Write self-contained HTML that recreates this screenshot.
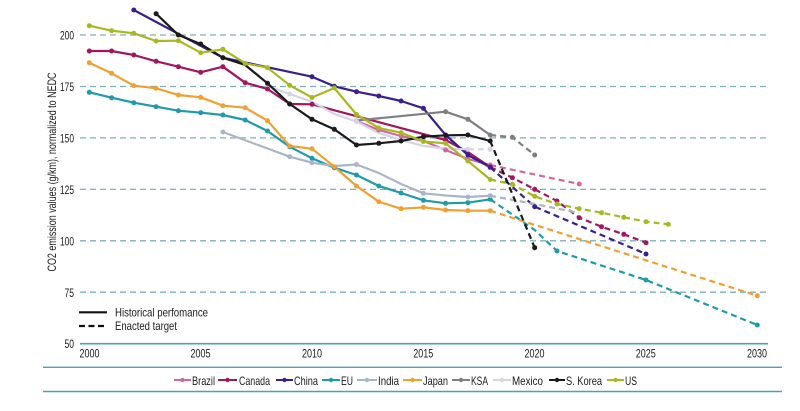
<!DOCTYPE html>
<html><head><meta charset="utf-8"><style>
html,body{margin:0;padding:0;background:#fff;}
svg{display:block;font-family:"Liberation Sans",sans-serif;}
</style></head><body>
<svg width="800" height="411" viewBox="0 0 800 411" xmlns="http://www.w3.org/2000/svg">
<rect width="800" height="411" fill="#fff"/>
<!-- gridlines -->
<g stroke="#7fafbb" stroke-width="1.3" stroke-dasharray="6,4" fill="none">
<line x1="80" y1="35" x2="767" y2="35"/>
<line x1="80" y1="86.5" x2="767" y2="86.5"/>
<line x1="80" y1="137.9" x2="767" y2="137.9"/>
<line x1="80" y1="189.4" x2="767" y2="189.4"/>
<line x1="80" y1="240.8" x2="767" y2="240.8"/>
<line x1="80" y1="292.2" x2="767" y2="292.2"/>
</g>
<line x1="80" y1="343.7" x2="768" y2="343.7" stroke="#4aa3b3" stroke-width="1.6"/>
<line x1="43" y1="367.3" x2="782" y2="367.3" stroke="#4aa3b3" stroke-width="1.4"/>
<line x1="43" y1="391.5" x2="782" y2="391.5" stroke="#4aa3b3" stroke-width="1.4"/>
<!-- y tick labels -->
<g font-size="12" fill="#1a1a1a" text-anchor="end">
<text x="74" y="39.5" textLength="14" lengthAdjust="spacingAndGlyphs">200</text>
<text x="74" y="91" textLength="14" lengthAdjust="spacingAndGlyphs">175</text>
<text x="74" y="142.5" textLength="14" lengthAdjust="spacingAndGlyphs">150</text>
<text x="74" y="194" textLength="14" lengthAdjust="spacingAndGlyphs">125</text>
<text x="74" y="245.5" textLength="14" lengthAdjust="spacingAndGlyphs">100</text>
<text x="74" y="297" textLength="9.5" lengthAdjust="spacingAndGlyphs">75</text>
<text x="74" y="348" textLength="9.5" lengthAdjust="spacingAndGlyphs">50</text>
</g>
<!-- x tick labels -->
<g font-size="12" fill="#1a1a1a" text-anchor="middle">
<text x="89.5" y="357.5" textLength="20" lengthAdjust="spacingAndGlyphs">2000</text>
<text x="200.5" y="357.5" textLength="20" lengthAdjust="spacingAndGlyphs">2005</text>
<text x="312" y="357.5" textLength="20" lengthAdjust="spacingAndGlyphs">2010</text>
<text x="423.3" y="357.5" textLength="20" lengthAdjust="spacingAndGlyphs">2015</text>
<text x="534.5" y="357.5" textLength="20" lengthAdjust="spacingAndGlyphs">2020</text>
<text x="645.8" y="357.5" textLength="20" lengthAdjust="spacingAndGlyphs">2025</text>
<text x="757" y="357.5" textLength="20" lengthAdjust="spacingAndGlyphs">2030</text>
</g>
<!-- y axis title -->
<text transform="translate(56,172) rotate(-90)" font-size="12" fill="#1a1a1a" text-anchor="middle" textLength="199" lengthAdjust="spacingAndGlyphs">CO2 emission values (g/km), normalized to NEDC</text>

<!-- series -->
<g fill="none" stroke-width="2.2" stroke-linejoin="round">
<polyline stroke="#d466a2" points="356.5,121 378.8,130 401.1,136 423.4,141 445.6,150 467.9,159 490.2,165"/>
<polyline stroke="#d466a2" stroke-dasharray="6,4" points="490.2,165 579.2,184"/>
<polyline stroke="#a3155f" points="89.3,51 111.6,51 133.8,55 156.1,61.3 178.4,66.7 200.7,72.3 222.9,66.7 245.2,82.7 267.5,89 289.7,104 312,104.3 445.6,140 467.9,152 490.2,167"/>
<polyline stroke="#a3155f" stroke-dasharray="6,4" points="490.2,167 512.4,177.7 534.7,189.3 557,201 579.2,217.7 601.5,226.7 623.8,234.3 646,242.7"/>
<polyline stroke="#3a1e8e" points="133.8,10 222.9,57.7 312,76.7 334.3,86.3 356.5,91.7 378.8,96 401.1,101 423.4,108.3 445.6,135 467.9,155 490.2,167.3"/>
<polyline stroke="#3a1e8e" stroke-dasharray="6,4" points="490.2,167.3 534.7,206.7 646,254"/>
<polyline stroke="#1e9aab" points="89.3,92.3 111.6,97.7 133.8,102.7 156.1,106.7 178.4,110.7 200.7,112.7 222.9,115 245.2,120 267.5,131 289.7,146.7 312,158.3 334.3,167.7 356.5,175 378.8,186 401.1,193 423.4,200.3 445.6,203.3 467.9,202.7 490.2,199.3"/>
<polyline stroke="#1e9aab" stroke-dasharray="6,4" points="490.2,199.3 534.7,230 557,251 646,280 757.3,325"/>
<polyline stroke="#aab5c7" points="222.9,132 289.7,156.7 312,162.7 334.3,166 356.5,164.5 378.8,173 401.1,184 423.4,193.3 445.6,195.5 467.9,197 490.2,195.7"/>
<polyline stroke="#aab5c7" stroke-dasharray="6,4" points="490.2,195.7 534.7,204 579.2,213"/>
<polyline stroke="#f0a030" points="89.3,62.7 111.6,73.3 133.8,85.7 156.1,88.3 178.4,95 200.7,97.3 222.9,105.7 245.2,107.7 267.5,120.7 289.7,146 312,148.7 334.3,166.7 356.5,186 378.8,201.7 401.1,208.7 423.4,207.3 445.6,210 467.9,210.7 490.2,210.7"/>
<polyline stroke="#f0a030" stroke-dasharray="6,4" points="490.2,210.7 757.3,295.7"/>
<polyline stroke="#7f7f7f" points="356.5,120.5 445.6,111.7 467.9,119.3 490.2,135"/>
<polyline stroke="#7f7f7f" stroke-dasharray="6,4" points="490.2,135 512.4,137.3 534.7,155"/>
<polyline stroke="#d3d3ea" points="267.5,86 289.7,94 312,101.7 334.3,114 356.5,121.5 378.8,133 401.1,140 423.4,146 445.6,148.5 467.9,149.3"/>
<polyline stroke="#d3d3ea" stroke-dasharray="6,4" points="467.9,149.3 490.2,149.3"/>
<polyline stroke="#1a1a1a" points="156.1,13.7 178.4,35 200.7,44 222.9,57.7 245.2,65 267.5,83.3 289.7,104 312,119.3 334.3,129.3 356.5,145 378.8,143.3 401.1,141 423.4,136.7 445.6,135.3 467.9,135 490.2,141"/>
<polyline stroke="#1a1a1a" stroke-dasharray="6,4" points="490.2,141 534.7,247.7"/>
<polyline stroke="#a8b820" points="89.3,25.7 111.6,30.7 133.8,33.3 156.1,41 178.4,40.7 200.7,52.7 222.9,49.3 245.2,63.3 267.5,67.7 289.7,85.3 312,97.5 334.3,88 356.5,114.5 378.8,128 401.1,132.7 423.4,141.5 445.6,143.3 467.9,161 490.2,179.5"/>
<polyline stroke="#a8b820" stroke-dasharray="6,4" points="490.2,179.5 512.4,184.3 534.7,196.3 557,204 579.2,208.7 601.5,212.7 623.8,217.3 646,221.7 668.3,224.3"/>
</g>

<!-- markers -->
<g fill="#d466a2"><circle cx="356.5" cy="121" r="2.5"/><circle cx="378.8" cy="130" r="2.5"/><circle cx="401.1" cy="136" r="2.5"/><circle cx="423.4" cy="141" r="2.5"/><circle cx="445.6" cy="150" r="2.5"/><circle cx="467.9" cy="159" r="2.5"/><circle cx="490.2" cy="165" r="2.5"/><circle cx="579.2" cy="184" r="2.5"/></g>
<g fill="#a3155f"><circle cx="89.3" cy="51" r="2.5"/><circle cx="111.6" cy="51" r="2.5"/><circle cx="133.8" cy="55" r="2.5"/><circle cx="156.1" cy="61.3" r="2.5"/><circle cx="178.4" cy="66.7" r="2.5"/><circle cx="200.7" cy="72.3" r="2.5"/><circle cx="222.9" cy="66.7" r="2.5"/><circle cx="245.2" cy="82.7" r="2.5"/><circle cx="267.5" cy="89" r="2.5"/><circle cx="289.7" cy="104" r="2.5"/><circle cx="312" cy="104.3" r="2.5"/><circle cx="445.6" cy="140" r="2.5"/><circle cx="490.2" cy="167" r="2.5"/><circle cx="512.4" cy="177.7" r="2.5"/><circle cx="534.7" cy="189.3" r="2.5"/><circle cx="557" cy="201" r="2.5"/><circle cx="579.2" cy="217.7" r="2.5"/><circle cx="601.5" cy="226.7" r="2.5"/><circle cx="623.8" cy="234.3" r="2.5"/><circle cx="646" cy="242.7" r="2.5"/></g>
<g fill="#3a1e8e"><circle cx="133.8" cy="10" r="2.5"/><circle cx="222.9" cy="57.7" r="2.5"/><circle cx="312" cy="76.7" r="2.5"/><circle cx="334.3" cy="86.3" r="2.5"/><circle cx="356.5" cy="91.7" r="2.5"/><circle cx="378.8" cy="96" r="2.5"/><circle cx="401.1" cy="101" r="2.5"/><circle cx="423.4" cy="108.3" r="2.5"/><circle cx="445.6" cy="135" r="2.5"/><circle cx="467.9" cy="155" r="2.5"/><circle cx="490.2" cy="167.3" r="2.5"/><circle cx="534.7" cy="206.7" r="2.5"/><circle cx="646" cy="254" r="2.5"/></g>
<g fill="#1e9aab"><circle cx="89.3" cy="92.3" r="2.5"/><circle cx="111.6" cy="97.7" r="2.5"/><circle cx="133.8" cy="102.7" r="2.5"/><circle cx="156.1" cy="106.7" r="2.5"/><circle cx="178.4" cy="110.7" r="2.5"/><circle cx="200.7" cy="112.7" r="2.5"/><circle cx="222.9" cy="115" r="2.5"/><circle cx="245.2" cy="120" r="2.5"/><circle cx="267.5" cy="131" r="2.5"/><circle cx="289.7" cy="146.7" r="2.5"/><circle cx="312" cy="158.3" r="2.5"/><circle cx="334.3" cy="167.7" r="2.5"/><circle cx="356.5" cy="175" r="2.5"/><circle cx="378.8" cy="186" r="2.5"/><circle cx="401.1" cy="193" r="2.5"/><circle cx="423.4" cy="200.3" r="2.5"/><circle cx="445.6" cy="203.3" r="2.5"/><circle cx="467.9" cy="202.7" r="2.5"/><circle cx="490.2" cy="199.3" r="2.5"/><circle cx="557" cy="251" r="2.5"/><circle cx="646" cy="280" r="2.5"/><circle cx="757.3" cy="325" r="2.5"/></g>
<g fill="#aab5c7"><circle cx="222.9" cy="132" r="2.5"/><circle cx="289.7" cy="156.7" r="2.5"/><circle cx="312" cy="162.7" r="2.5"/><circle cx="356.5" cy="164.5" r="2.5"/><circle cx="423.4" cy="193.3" r="2.5"/><circle cx="467.9" cy="197" r="2.5"/><circle cx="490.2" cy="195.7" r="2.5"/></g>
<g fill="#f0a030"><circle cx="89.3" cy="62.7" r="2.5"/><circle cx="111.6" cy="73.3" r="2.5"/><circle cx="133.8" cy="85.7" r="2.5"/><circle cx="156.1" cy="88.3" r="2.5"/><circle cx="178.4" cy="95" r="2.5"/><circle cx="200.7" cy="97.3" r="2.5"/><circle cx="222.9" cy="105.7" r="2.5"/><circle cx="245.2" cy="107.7" r="2.5"/><circle cx="267.5" cy="120.7" r="2.5"/><circle cx="289.7" cy="146" r="2.5"/><circle cx="312" cy="148.7" r="2.5"/><circle cx="334.3" cy="166.7" r="2.5"/><circle cx="356.5" cy="186" r="2.5"/><circle cx="378.8" cy="201.7" r="2.5"/><circle cx="401.1" cy="208.7" r="2.5"/><circle cx="423.4" cy="207.3" r="2.5"/><circle cx="445.6" cy="210" r="2.5"/><circle cx="467.9" cy="210.7" r="2.5"/><circle cx="490.2" cy="210.7" r="2.5"/><circle cx="757.3" cy="295.7" r="2.5"/></g>
<g fill="#7f7f7f"><circle cx="445.6" cy="111.7" r="2.5"/><circle cx="467.9" cy="119.3" r="2.5"/><circle cx="490.2" cy="135" r="2.5"/><circle cx="512.4" cy="137.3" r="2.5"/><circle cx="534.7" cy="155" r="2.5"/></g>
<g fill="#d3d3ea"><circle cx="289.7" cy="94" r="2.5"/><circle cx="356.5" cy="121.5" r="2.5"/><circle cx="467.9" cy="149.3" r="2.5"/><circle cx="490.2" cy="149.3" r="2.5"/></g>
<g fill="#1a1a1a"><circle cx="156.1" cy="13.7" r="2.5"/><circle cx="178.4" cy="35" r="2.5"/><circle cx="200.7" cy="44" r="2.5"/><circle cx="222.9" cy="57.7" r="2.5"/><circle cx="267.5" cy="83.3" r="2.5"/><circle cx="289.7" cy="104" r="2.5"/><circle cx="312" cy="119.3" r="2.5"/><circle cx="334.3" cy="129.3" r="2.5"/><circle cx="356.5" cy="145" r="2.5"/><circle cx="378.8" cy="143.3" r="2.5"/><circle cx="401.1" cy="141" r="2.5"/><circle cx="423.4" cy="136.7" r="2.5"/><circle cx="445.6" cy="135.3" r="2.5"/><circle cx="467.9" cy="135" r="2.5"/><circle cx="490.2" cy="141" r="2.5"/><circle cx="534.7" cy="247.7" r="2.5"/></g>
<g fill="#a8b820"><circle cx="89.3" cy="25.7" r="2.5"/><circle cx="111.6" cy="30.7" r="2.5"/><circle cx="133.8" cy="33.3" r="2.5"/><circle cx="156.1" cy="41" r="2.5"/><circle cx="178.4" cy="40.7" r="2.5"/><circle cx="200.7" cy="52.7" r="2.5"/><circle cx="222.9" cy="49.3" r="2.5"/><circle cx="245.2" cy="63.3" r="2.5"/><circle cx="267.5" cy="67.7" r="2.5"/><circle cx="289.7" cy="85.3" r="2.5"/><circle cx="312" cy="97.5" r="2.5"/><circle cx="334.3" cy="88" r="2.5"/><circle cx="356.5" cy="114.5" r="2.5"/><circle cx="378.8" cy="128" r="2.5"/><circle cx="401.1" cy="132.7" r="2.5"/><circle cx="423.4" cy="141.5" r="2.5"/><circle cx="445.6" cy="143.3" r="2.5"/><circle cx="467.9" cy="161" r="2.5"/><circle cx="490.2" cy="179.5" r="2.5"/><circle cx="512.4" cy="184.3" r="2.5"/><circle cx="534.7" cy="196.3" r="2.5"/><circle cx="557" cy="204" r="2.5"/><circle cx="579.2" cy="208.7" r="2.5"/><circle cx="601.5" cy="212.7" r="2.5"/><circle cx="623.8" cy="217.3" r="2.5"/><circle cx="646" cy="221.7" r="2.5"/><circle cx="668.3" cy="224.3" r="2.5"/></g>

<!-- style legend -->
<line x1="79" y1="312.3" x2="107" y2="312.3" stroke="#111" stroke-width="2.2"/>
<line x1="79" y1="326" x2="107" y2="326" stroke="#111" stroke-width="2.2" stroke-dasharray="6,3.5"/>
<text x="115" y="316.5" font-size="12" fill="#1a1a1a" textLength="93" lengthAdjust="spacingAndGlyphs">Historical perfomance</text>
<text x="115" y="330" font-size="12" fill="#1a1a1a" textLength="62" lengthAdjust="spacingAndGlyphs">Enacted target</text>

<!-- series legend -->
<g stroke-width="2">
<line x1="174" y1="380" x2="191" y2="380" stroke="#d466a2"/>
<line x1="218" y1="380" x2="237" y2="380" stroke="#a3155f"/>
<line x1="276" y1="380" x2="293" y2="380" stroke="#3a1e8e"/>
<line x1="322" y1="380" x2="340" y2="380" stroke="#1e9aab"/>
<line x1="357" y1="380" x2="377" y2="380" stroke="#aab5c7"/>
<line x1="403" y1="380" x2="422" y2="380" stroke="#f0a030"/>
<line x1="452" y1="380" x2="470" y2="380" stroke="#7f7f7f"/>
<line x1="493" y1="380" x2="511" y2="380" stroke="#d3d3ea"/>
<line x1="549" y1="380" x2="565" y2="380" stroke="#1a1a1a"/>
<line x1="607" y1="380" x2="624" y2="380" stroke="#a8b820"/>
</g>
<circle cx="182.5" cy="380" r="2.2" fill="#d466a2"/>
<circle cx="227.5" cy="380" r="2.2" fill="#a3155f"/>
<circle cx="284.5" cy="380" r="2.2" fill="#3a1e8e"/>
<circle cx="331" cy="380" r="2.2" fill="#1e9aab"/>
<circle cx="367" cy="380" r="2.2" fill="#aab5c7"/>
<circle cx="412.5" cy="380" r="2.2" fill="#f0a030"/>
<circle cx="461" cy="380" r="2.2" fill="#7f7f7f"/>
<circle cx="502" cy="380" r="2.2" fill="#d3d3ea"/>
<circle cx="557" cy="380" r="2.2" fill="#1a1a1a"/>
<circle cx="615.5" cy="380" r="2.2" fill="#a8b820"/>
<g font-size="12" fill="#1a1a1a">
<text x="192" y="385" textLength="23" lengthAdjust="spacingAndGlyphs">Brazil</text>
<text x="239" y="385" textLength="31" lengthAdjust="spacingAndGlyphs">Canada</text>
<text x="294" y="385" textLength="24" lengthAdjust="spacingAndGlyphs">China</text>
<text x="341" y="385" textLength="12" lengthAdjust="spacingAndGlyphs">EU</text>
<text x="378" y="385" textLength="21" lengthAdjust="spacingAndGlyphs">India</text>
<text x="423" y="385" textLength="25" lengthAdjust="spacingAndGlyphs">Japan</text>
<text x="471" y="385" textLength="17" lengthAdjust="spacingAndGlyphs">KSA</text>
<text x="512" y="385" textLength="31" lengthAdjust="spacingAndGlyphs">Mexico</text>
<text x="566" y="385" textLength="36" lengthAdjust="spacingAndGlyphs">S. Korea</text>
<text x="625" y="385" textLength="12" lengthAdjust="spacingAndGlyphs">US</text>
</g>
</svg>
</body></html>
